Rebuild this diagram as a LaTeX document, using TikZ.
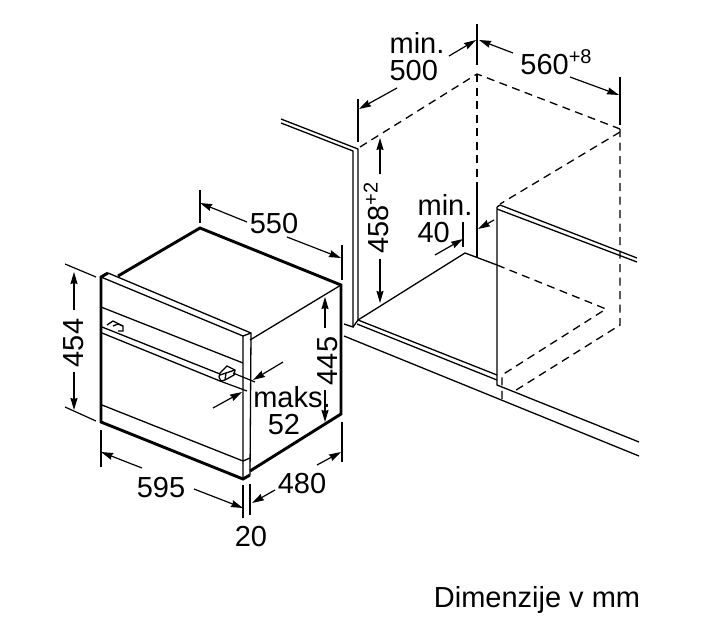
\documentclass[tikz,border=0pt]{standalone}
\usepackage{fontspec}
\setmainfont{Liberation Sans}
\usetikzlibrary{arrows.meta}
\newcommand{\supnum}[1]{\raisebox{0.36em}{\fontsize{20}{20}\selectfont #1}}

\begin{document}
\begin{tikzpicture}[
  x=1pt,y=-1pt,>={Stealth[length=12pt,width=7pt,inset=1pt]},
  line join=miter,
  thin line/.style={line width=1.3pt},
  thick line/.style={line width=2.9pt},
  dash line/.style={line width=1.3pt,dash pattern=on 8pt off 5.5pt},
  dim/.style={line width=1.2pt,->},
  ext/.style={line width=1.2pt},
  label/.style={font=\fontsize{29}{27}\selectfont,inner sep=0pt,text depth=0pt},
  ]
  \useasboundingbox (0,0) rectangle (717,630);

  % oven
  \coordinate (top back) at (200,228);
  \coordinate (top right) at (341,285);
  \coordinate (bottom right) at (341,414);
  \coordinate (front left) at (101,277);
  \coordinate (bottom left) at (101,422);
  \coordinate (panel top) at (108,273);
  \coordinate (panel right) at (251,333);
  \coordinate (panel bottom) at (243,479);

  \draw[thick line] (118,276) -- (top back) -- (top right) -- (bottom right) -- (250,471);
  \draw[thick line] (panel top) -- (front left) -- (bottom left) -- (panel bottom) -- (250,475);
  \draw[thin line] (panel top) -- (panel right) -- (250,475);
  \draw[thin line] (front left) -- (243,336) -- (panel bottom);
  \draw[thin line] (243,336) -- (panel right);
  \draw[thin line] (250,340) -- (top right);
  \draw[thin line] (101,307) -- (243,363);
  \draw[thin line] (102,405) -- (243,461) -- (250,458);
  % handle
  \draw[thin line] (102,327) -- (220,374);
  \draw[thin line] (102,333) -- (220,381);
  \draw[thin line] (107,325) -- (113,321) -- (123,326) -- (123,331) -- (118,331);
  \draw[thin line] (113,326) -- (118,324) -- (123,326);
  \draw[thin line] (220,373) -- (227,366) -- (235,370) -- (234,375) -- (225,380) -- (221,381) -- (219,377) -- cycle;
  \draw[thin line] (220,375) -- (226,373) -- (235,370);
  \draw[thin line] (226,373) -- (225,380);

  % oven dimensions
  \draw[ext] (200,190) -- (200,223);
  \draw[ext] (342,245) -- (342,280);
  \draw[dim] (247,222) -- (200,203);
  \draw[dim] (287,237) -- (341,258);
  \node[label] (l550) at (274,223) {550};

  \draw[ext] (65,264) -- (96,277);
  \draw[ext] (65,407) -- (96,421);
  \draw[dim] (74,310) -- (74,272);
  \draw[dim] (74,372) -- (74,410);
  \node[label,rotate=90] (l454) at (74,343) {454};

  \draw[dim] (325,328) -- (325,297);
  \draw[dim] (325,390) -- (325,422);
  \node[label,rotate=90] (l445) at (328,361) {445};

  \draw[ext] (101,430) -- (101,467);
  \draw[ext] (243,485) -- (243,518);
  \draw[ext] (250,484) -- (250,515);
  \draw[ext] (342,422) -- (342,462);
  \draw[dim] (142,468) -- (101,452);
  \draw[dim] (194,489) -- (243,508);
  \node[label] (l595) at (161,487) {595};
  \draw[dim] (317,465) -- (341,452);
  \draw[dim] (275,490) -- (252,503);
  \node[label] (l480) at (302,483) {480};
  \node[label] (l20) at (251,536) {20};

  \draw[ext] (233,373) -- (255,382);
  \draw[ext] (220,381) -- (247,391);
  \draw[dim] (283,362) -- (253,380);
  \draw[dim] (213,408) -- (242,392);
  \node[label,align=center] (lmaks) at (292,410) {maks.\\52\kern16pt};

  % niche, left wall
  \draw[thin line] (281,119) -- (358,149) -- (358,320);
  \draw[thin line] (281,123) -- (353,151) -- (353,327) -- (344,324);
  \draw[thin line] (358,320) -- (353,327);

  % niche, floor
  \draw[thin line] (358,320) -- (465,253) -- (497,265);
  \draw[thin line] (358,320) -- (497,375);
  \draw[thin line] (357,324) -- (497,380);
  \draw[thin line] (497,207) -- (497,385) -- (639,442);
  \draw[thin line] (344,336) -- (639,456);
  \draw[thin line] (477,187) -- (477,258);

  % niche, right panel
  \draw[thin line] (500,205) -- (637,258);
  \draw[thin line] (497,207) -- (500,205);
  \draw[thin line] (497,209) -- (637,262);

  % hidden edges
  \draw[dash line] (360,147) -- (477,74) -- (620,129);
  \draw[dash line] (620,132) -- (500,204);
  \draw[dash line] (477,74) -- (477,187);
  \draw[dash line] (620,129) -- (620,325) -- (513,392);
  \draw[dash line] (497,265) -- (606,309) -- (502,375) -- (502,400);

  % niche dimensions
  \draw[ext] (477,24) -- (477,65);
  \draw[ext] (620,77) -- (620,125);
  \draw[ext] (358,99) -- (358,142);
  \draw[dim] (449,56) -- (476,40);
  \draw[dim] (397,88) -- (359,109);
  \node[label,align=left] (lmin500) at (417,56) {min.\\500};
  \draw[dim] (513,53) -- (479,40);
  \draw[dim] (570,77) -- (619,95);
  \node[label] (l560) at (556,62) {560\supnum{+8}};

  \draw[dim] (380,174) -- (380,138);
  \draw[dim] (380,259) -- (380,303);
  \node[label,rotate=90,anchor=base] (l458) at (388,218) {458\supnum{+2}};

  \draw[ext] (463,222) -- (463,247);
  \draw[dim] (435,255) -- (463,239);
  \draw[dim] (494,220) -- (478,229);
  \node[label,align=left] (lmin40) at (445,218) {min.\\40};

  \node[label] (lnote) at (537,597) {Dimenzije v mm};
\end{tikzpicture}
\end{document}
